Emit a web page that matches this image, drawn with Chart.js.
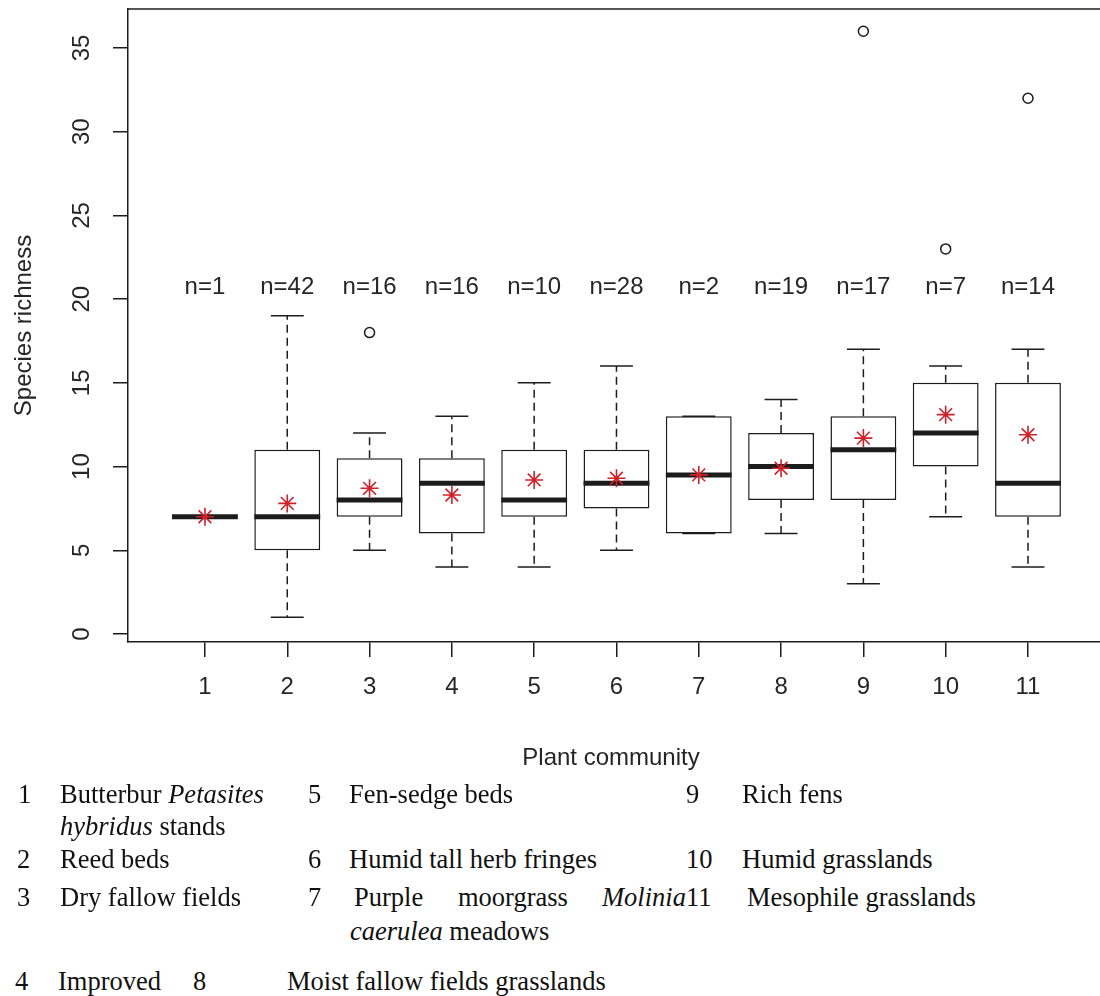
<!DOCTYPE html>
<html>
<head>
<meta charset="utf-8">
<title>Species richness by plant community</title>
<script src="https://cdn.jsdelivr.net/npm/chart.js@4.4.1/dist/chart.umd.min.js"></script>
<style>
body { margin: 0; background: #fff; }
#wrap { position: relative; width: 1100px; height: 996px; overflow: hidden; }
#chart { position: absolute; left: 0; top: 0; }
.key { position: absolute; font-family: "Liberation Serif", "Times New Roman", serif; font-size: 26.5px; line-height: 26px; color: #111; white-space: nowrap; }
</style>
</head>
<body>
<div id="wrap">
<canvas id="chart" width="1100" height="780"></canvas>

<!-- community key -->
<span class="key" style="left:18px;top:781px">1</span>
<span class="key" style="left:60px;top:781px">Butterbur <i>Petasites</i></span>
<span class="key" style="left:60px;top:813px"><i>hybridus</i> stands</span>
<span class="key" style="left:17px;top:846px">2</span>
<span class="key" style="left:60px;top:846px">Reed beds</span>
<span class="key" style="left:17px;top:884px">3</span>
<span class="key" style="left:60px;top:884px">Dry fallow fields</span>
<span class="key" style="left:15px;top:968px">4</span>
<span class="key" style="left:58px;top:968px">Improved</span>
<span class="key" style="left:193px;top:968px">8</span>
<span class="key" style="left:287px;top:968px">Moist fallow fields grasslands</span>
<span class="key" style="left:308px;top:781px">5</span>
<span class="key" style="left:349px;top:781px">Fen-sedge beds</span>
<span class="key" style="left:308px;top:846px">6</span>
<span class="key" style="left:349px;top:846px">Humid tall herb fringes</span>
<span class="key" style="left:308px;top:884px">7</span>
<span class="key" style="left:354px;top:884px">Purple</span>
<span class="key" style="left:458px;top:884px">moorgrass</span>
<span class="key" style="left:602px;top:884px"><i>Molinia</i></span>
<span class="key" style="left:686px;top:884px">11</span>
<span class="key" style="left:747px;top:884px">Mesophile grasslands</span>
<span class="key" style="left:350px;top:918px"><i>caerulea</i> meadows</span>
<span class="key" style="left:686px;top:781px">9</span>
<span class="key" style="left:742px;top:781px">Rich fens</span>
<span class="key" style="left:686px;top:846px">10</span>
<span class="key" style="left:742px;top:846px">Humid grasslands</span>
</div>

<script>
// plant communities on the x axis
var categories = ['1', '2', '3', '4', '5', '6', '7', '8', '9', '10', '11'];
var sampleSize = [1, 42, 16, 16, 10, 28, 2, 19, 17, 7, 14];

// five number summaries per community
var whiskerLow  = [7, 1, 5, 4, 4, 5, 6, 6, 3, 7, 4];
var lowerQ      = [7, 5, 7, 6, 7, 7.5, 6, 8, 8, 10, 7];
var medians     = [7, 7, 8, 9, 8, 9, 9.5, 10, 11, 12, 9];
var upperQ      = [7, 11, 10.5, 10.5, 11, 11, 13, 12, 13, 15, 15];
var whiskerHigh = [7, 19, 12, 13, 15, 16, 13, 14, 17, 16, 17];

// means (red stars)
var means = [7, 7.8, 8.7, 8.3, 9.2, 9.3, 9.5, 9.9, 11.7, 13.1, 11.9];

// outlying plots
var outlierGroup = [3, 9, 10, 11];
var outlierValue = [18, 36, 23, 32];

var yTicks = [0, 5, 10, 15, 20, 25, 30, 35];

var ink = '#1c1c1c';
var txt = '#262626';
var sans = '"Liberation Sans", Arial, sans-serif';
var nLabelAt = 20.7;   // height of the n= row, in y units

Chart.defaults.font.family = sans;
Chart.defaults.color = txt;

//whiskers, staples and medians go on top of the boxes, under the means
var boxParts = {
	id: 'boxParts',
	afterDatasetDraw: function(chart, args) {
		if (args.index !== 0) return;
		var ctx = chart.ctx, ys = chart.scales.y;
		var bars = chart.getDatasetMeta(0).data;
		ctx.save();
		ctx.strokeStyle = ink;
		bars.forEach(function(bar, i) {
			var cx = bar.x, half = bar.width / 2, cap = bar.width / 4;
			var yHi = ys.getPixelForValue(whiskerHigh[i]);
			var yLo = ys.getPixelForValue(whiskerLow[i]);
			var yQ3 = ys.getPixelForValue(upperQ[i]);
			var yQ1 = ys.getPixelForValue(lowerQ[i]);
			ctx.lineWidth = 1.5;
			ctx.setLineDash([8, 5]);
			ctx.beginPath();
			if (whiskerHigh[i] > upperQ[i]) { ctx.moveTo(cx, yQ3); ctx.lineTo(cx, yHi); }
			if (whiskerLow[i] < lowerQ[i]) { ctx.moveTo(cx, yQ1); ctx.lineTo(cx, yLo); }
			ctx.stroke();
			ctx.setLineDash([]);
			if (sampleSize[i] > 1) {
				ctx.beginPath();
				ctx.moveTo(cx - cap, yHi); ctx.lineTo(cx + cap, yHi);
				ctx.moveTo(cx - cap, yLo); ctx.lineTo(cx + cap, yLo);
				ctx.stroke();
			}
			// median
			var yMed = ys.getPixelForValue(medians[i]);
			ctx.lineWidth = 5;
			ctx.beginPath();
			ctx.moveTo(cx - half, yMed); ctx.lineTo(cx + half, yMed);
			ctx.stroke();
		});
		ctx.restore();
	},
	afterDraw: function(chart) {
		var ctx = chart.ctx, xs = chart.scales.x, ys = chart.scales.y, a = chart.chartArea;
		ctx.save();
		// top of the frame
		ctx.strokeStyle = ink;
		ctx.lineWidth = 1.5;
		ctx.beginPath();
		ctx.moveTo(a.left, a.top); ctx.lineTo(a.right, a.top);
		ctx.stroke();

		ctx.fillStyle = txt;
		ctx.font = '24px ' + sans;
		ctx.textAlign = 'center';
		ctx.textBaseline = 'middle';
		// n= labels
		sampleSize.forEach(function(n, i) {
			ctx.fillText('n=' + n, xs.getPixelForValue(i + 1), ys.getPixelForValue(nLabelAt));
		});
		// y tick labels, turned like R does
		yTicks.forEach(function(v) {
			ctx.save();
			ctx.translate(82, ys.getPixelForValue(v));
			ctx.rotate(-Math.PI / 2);
			ctx.fillText(String(v), 0, 0);
			ctx.restore();
		});
		// axis titles
		ctx.save();
		ctx.translate(24, (a.top + a.bottom) / 2);
		ctx.rotate(-Math.PI / 2);
		ctx.fillText('Species richness', 0, 0);
		ctx.restore();
		ctx.textBaseline = 'alphabetic';
		ctx.fillText('Plant community', 611, 765);
		ctx.restore();
	}
};

var boxes = categories.map(function(c, i) { return { x: i + 1, y: [lowerQ[i], upperQ[i]] }; });
var meanPts = means.map(function(m, i) { return { x: i + 1, y: m }; });
var outPts = outlierGroup.map(function(g, i) { return { x: g, y: outlierValue[i] }; });

new Chart(document.getElementById('chart'), {
	type: 'bar',
	data: {
		datasets: [{
			data: boxes,
			backgroundColor: '#ffffff',
			borderColor: ink,
			borderWidth: 1.5,
			borderSkipped: false,
			barPercentage: 1,
			categoryPercentage: 0.8,
			order: 3
		}, {
			type: 'scatter',
			data: meanPts,
			pointStyle: 'star',
			pointRadius: 9,
			borderColor: '#d0202a',
			borderWidth: 1.6,
			order: 1
		}, {
			type: 'scatter',
			data: outPts,
			pointStyle: 'circle',
			pointRadius: 5,
			backgroundColor: 'rgba(0,0,0,0)',
			borderColor: ink,
			borderWidth: 1.5,
			order: 2
		}]
	},
	options: {
		responsive: false,
		animation: false,
		devicePixelRatio: 1,
		layout: { autoPadding: false, padding: { top: 9, right: 0, bottom: 78, left: 0 } },
		plugins: { legend: { display: false }, tooltip: { enabled: false } },
		scales: {
			x: {
				type: 'linear',
				offset: false,
				min: 0.065,
				max: 11.875,
				afterBuildTicks: function(s) { s.ticks = categories.map(function(c, i) { return { value: i + 1 }; }); },
				afterFit: function(s) { s.height = 60; s.paddingLeft = 0; s.paddingRight = 0; },
				ticks: {
					callback: function(v) { return categories[v - 1]; },
					font: { size: 24 },
					color: txt,
					padding: 16,
					maxRotation: 0
				},
				grid: { offset: false, drawOnChartArea: false, drawTicks: true, tickLength: 15, color: ink, lineWidth: 1.5 },
				border: { display: true, color: ink, width: 1.5 }
			},
			y: {
				type: 'linear',
				min: -0.48,
				max: 37.33,
				afterBuildTicks: function(s) { s.ticks = yTicks.map(function(v) { return { value: v }; }); },
				afterFit: function(s) { s.width = 128; s.paddingTop = 0; s.paddingBottom = 0; },
				ticks: { display: false },
				grid: { drawOnChartArea: false, drawTicks: true, tickLength: 15, color: ink, lineWidth: 1.5 },
				border: { display: true, color: ink, width: 1.5 }
			}
		}
	},
	plugins: [boxParts]
});
</script>
</body>
</html>
